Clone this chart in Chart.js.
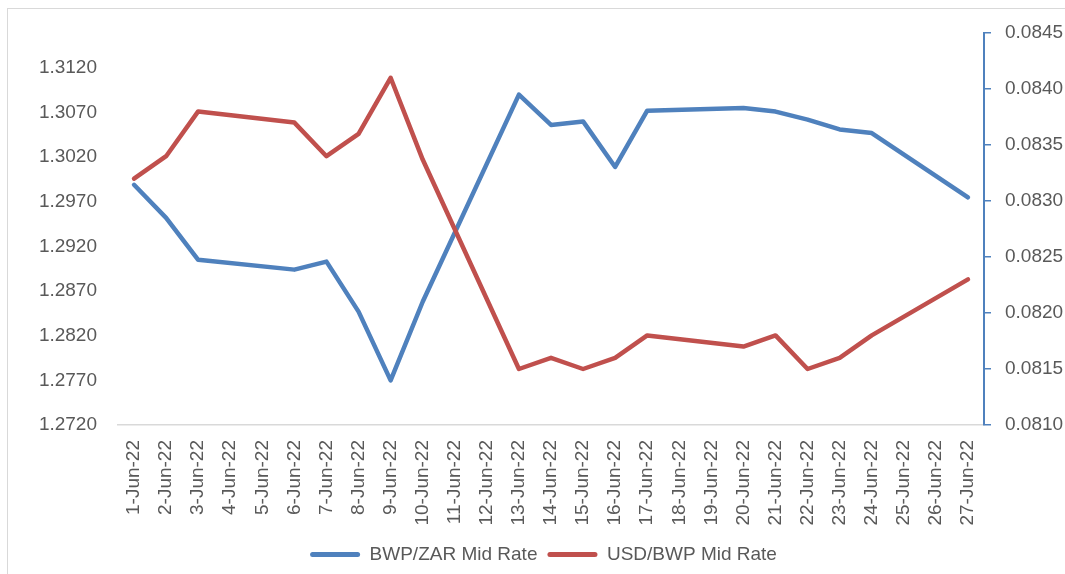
<!DOCTYPE html>
<html>
<head>
  <title>BWP/ZAR and USD/BWP Mid Rates</title>
  <script src="https://cdn.jsdelivr.net/npm/chart.js"></script>
  <style>
    html, body { margin: 0; padding: 0; background: #fff; overflow: hidden; }
    #wrap { position: relative; width: 1065px; height: 574px; overflow: hidden; }
    #frame { position: absolute; left: 7px; top: 8px; width: 1100px; height: 600px; border: 1px solid #d9d9d9; }
    canvas { position: absolute; left: 0; top: 0; }
  </style>
</head>
<body>
  <div id="wrap">
    <div id="frame"></div>
    <canvas id="chart" width="1065" height="574"></canvas>
  </div>

  <script>
    const dates = ['1-Jun-22', '2-Jun-22', '3-Jun-22', '4-Jun-22', '5-Jun-22', '6-Jun-22', '7-Jun-22',
      '8-Jun-22', '9-Jun-22', '10-Jun-22', '11-Jun-22', '12-Jun-22', '13-Jun-22', '14-Jun-22',
      '15-Jun-22', '16-Jun-22', '17-Jun-22', '18-Jun-22', '19-Jun-22', '20-Jun-22', '21-Jun-22',
      '22-Jun-22', '23-Jun-22', '24-Jun-22', '25-Jun-22', '26-Jun-22', '27-Jun-22'];

    // weekends have no fixing, Excel just joins across them
    const bwpZar = [1.2989, 1.2952, 1.2905, null, null, 1.2894, 1.2903, 1.2847, 1.2770, 1.2858,
      null, null, 1.3090, 1.3056, 1.3060, 1.3009, 1.3072, null, null, 1.3075, 1.3071, 1.3062,
      1.3051, 1.3047, null, null, 1.2975];
    const usdBwp = [0.0832, 0.0834, 0.0838, null, null, 0.0837, 0.0834, 0.0836, 0.0841, 0.08337,
      null, null, 0.0815, 0.0816, 0.0815, 0.0816, 0.0818, null, null, 0.0817, 0.0818, 0.0815,
      0.0816, 0.0818, null, null, 0.0823];

    const leftTicks = [1.2720, 1.2770, 1.2820, 1.2870, 1.2920, 1.2970, 1.3020, 1.3070, 1.3120];
    const rightTicks = [0.0810, 0.0815, 0.0820, 0.0825, 0.0830, 0.0835, 0.0840, 0.0845];

    const BLUE = '#4f81bd';
    const RED = '#c0504d';
    const TEXT = '#595959';
    const FONT = { family: "'Liberation Sans', Arial, sans-serif", size: 19 };

    const ctx = document.getElementById('chart').getContext('2d');
    const chart = new Chart(ctx, {
      type: 'line',
      data: {
        labels: dates,
        datasets: [{
          label: 'BWP/ZAR Mid Rate',
          data: bwpZar,
          yAxisID: 'yLeft',
          borderColor: BLUE,
          backgroundColor: BLUE,
          borderWidth: 4.5,
          pointRadius: 0,
          borderCapStyle: 'round',
          borderJoinStyle: 'round',
          spanGaps: true,
          order: 1
        }, {
          label: 'USD/BWP Mid Rate',
          data: usdBwp,
          yAxisID: 'yRight',
          borderColor: RED,
          backgroundColor: RED,
          borderWidth: 4.5,
          pointRadius: 0,
          borderCapStyle: 'round',
          borderJoinStyle: 'round',
          spanGaps: true,
          order: 0
        }]
      },
      options: {
        responsive: false,
        animation: false,
        layout: { padding: { left: 22, right: 0, top: 33, bottom: 0 } },
        plugins: {
          tooltip: { enabled: false },
          legend: {
            position: 'bottom',
            labels: {
              color: TEXT,
              font: FONT,
              boxWidth: 50,
              boxHeight: 5,
              padding: 10,
              useBorderRadius: true,
              borderRadius: 2.5,
              sort: (a, b) => a.datasetIndex - b.datasetIndex,
              generateLabels: (c) => Chart.defaults.plugins.legend.labels.generateLabels(c)
                .map(l => Object.assign(l, { lineWidth: 0 }))
            }
          }
        },
        scales: {
          x: {
            offset: true,
            grid: { display: false, drawTicks: false },
            border: { display: true, color: '#d9d9d9', width: 1.5 },
            ticks: { color: TEXT, font: FONT, minRotation: 90, maxRotation: 90, padding: 15, autoSkip: false },
            afterFit: (s) => { s.height = 110; }
          },
          yLeft: {
            position: 'left',
            min: 1.2720,
            max: 1.3159,
            grid: { display: false, drawTicks: false },
            border: { display: false },
            ticks: { color: TEXT, font: FONT, padding: 21, callback: (v) => v.toFixed(4) },
            afterBuildTicks: (s) => { s.ticks = leftTicks.map(v => ({ value: v })); },
            afterFit: (s) => { s.width = 96; }
          },
          yRight: {
            position: 'right',
            min: 0.0810,
            max: 0.0845,
            grid: { display: true, drawOnChartArea: false, drawTicks: true, tickLength: 7, color: BLUE, lineWidth: 1.5 },
            border: { display: true, color: BLUE, width: 2 },
            ticks: { color: TEXT, font: FONT, padding: 14, callback: (v) => v.toFixed(4) },
            afterBuildTicks: (s) => { s.ticks = rightTicks.map(v => ({ value: v })); },
            afterFit: (s) => { s.width = 81; }
          }
        }
      }
    });
  </script>
</body>
</html>
